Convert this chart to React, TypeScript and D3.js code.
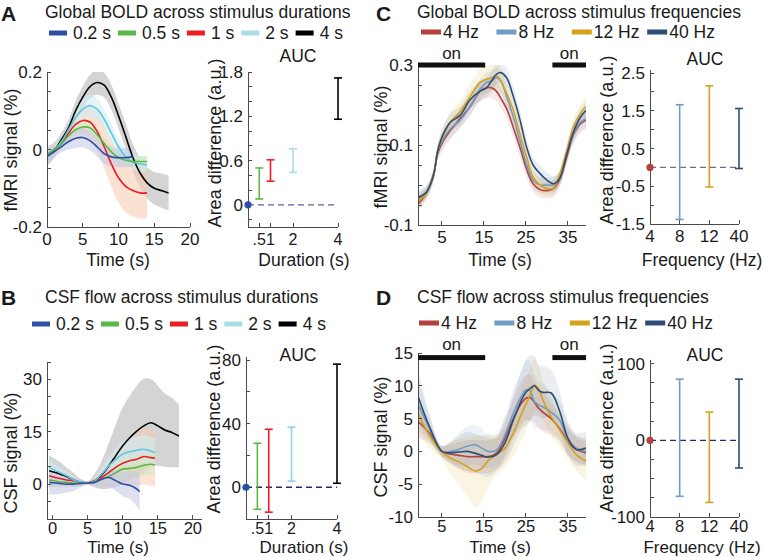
import React, { useEffect, useRef } from "react";
import * as d3 from "d3";

const FONT = "'Liberation Sans', Arial, Helvetica, sans-serif";
const W = 763;
const H = 557;

// ---------- Panel A : Global BOLD across stimulus durations ----------
const durationLabels = ["0.2 s", "0.5 s", "1 s", "2 s", "4 s"];
const durationColors = ["#2f4fa6", "#5bb846", "#ec1d25", "#5cc7de", "#000000"];
const durationLegendColors = ["#2f4fa6", "#5bb846", "#ec1d25", "#a9dee8", "#000000"];
const durationBandColors = ["#c3c6e8", "#cfeac0", "#f8c9ad", "#cdedf4", "#b8b8b8"];

const aT12 = [0, 1, 2, 3, 4, 5, 6, 7, 8, 9, 10, 11, 12];
const aT14 = [0, 1, 2, 3, 4, 5, 6, 7, 8, 9, 10, 11, 12, 13, 14];
const aT17 = [0, 1, 2, 3, 4, 5, 6, 7, 8, 9, 10, 11, 12, 13, 14, 15, 16, 17];

const aBlue = [-0.018, -0.006, 0.007, 0.02, 0.029, 0.031, 0.023, 0.007, -0.011, -0.019, -0.021, -0.021, -0.019];
const aBlueSd = [0.02, 0.015, 0.015, 0.02, 0.025, 0.025, 0.025, 0.025, 0.025, 0.025, 0.025, 0.025, 0.025];
const aGreen = [-0.015, 0, 0.014, 0.035, 0.051, 0.058, 0.056, 0.038, 0.016, -0.006, -0.021, -0.028, -0.031, -0.031, -0.031];
const aGreenSd = [0.012, 0.01, 0.01, 0.012, 0.012, 0.014, 0.014, 0.014, 0.014, 0.014, 0.014, 0.014, 0.014, 0.014, 0.014];
const aRed = [-0.012, 0, 0.016, 0.042, 0.065, 0.075, 0.071, 0.047, 0.007, -0.037, -0.073, -0.095, -0.106, -0.112, -0.112];
const aRedSd = [0.015, 0.012, 0.015, 0.02, 0.03, 0.038, 0.044, 0.05, 0.055, 0.06, 0.064, 0.066, 0.066, 0.066, 0.066];
const aCyan = [-0.011, 0, 0.02, 0.051, 0.082, 0.104, 0.113, 0.104, 0.078, 0.042, 0.007, -0.019, -0.033, -0.037, -0.04];
const aCyanSd = [0.015, 0.012, 0.012, 0.015, 0.02, 0.025, 0.028, 0.028, 0.025, 0.022, 0.02, 0.02, 0.02, 0.02, 0.02];
const aBlack = [-0.018, -0.002, 0.025, 0.056, 0.1, 0.135, 0.162, 0.173, 0.166, 0.135, 0.087, 0.034, -0.02, -0.06, -0.086, -0.1, -0.106, -0.112];
const aBlackSd = [0.025, 0.02, 0.018, 0.02, 0.025, 0.028, 0.03, 0.032, 0.032, 0.032, 0.032, 0.033, 0.035, 0.038, 0.04, 0.042, 0.044, 0.045];

const durationAucX = [0.5, 1, 2, 4];
const boldAucLo = [0.08, 0.32, 0.44, 1.16];
const boldAucHi = [0.5, 0.61, 0.76, 1.72];
const durationTickLabels = [".5", "1", "2", "4"];

// ---------- Panel B : CSF flow across stimulus durations ----------
const bT12 = [-0.5, 1, 2, 3, 4, 5, 6, 7, 8, 9, 10, 11, 12, 12.4];
const bT14 = [-0.5, 1, 2, 3, 4, 5, 6, 7, 8, 9, 10, 11, 12, 13, 14, 14.6];
const bT18 = [-0.5, 1, 2, 3, 4, 5, 6, 7, 8, 9, 10, 11, 12, 13, 14, 15, 16, 17, 18];

const bBlue = [0.5, 0.2, 0, 0, 0.2, 0.3, 0.5, 1.4, 1.9, 1, 0, -0.3, -1.4, -2.2];
const bBlueSd = [3.5, 3, 2.5, 2, 1.2, 0.5, 1, 2, 2.5, 3, 3.5, 4, 5, 5.5];
const bGreen = [1.2, 0.7, 0.5, 0.3, 0.3, 0.3, 0.7, 1.4, 2.2, 3.3, 4.3, 4.5, 4.8, 5.4, 5.7, 5.5];
const bGreenSd = [2, 1.5, 1.2, 1, 0.7, 0.5, 1, 1.5, 2, 2.5, 3, 3, 3, 3, 3, 3];
const bRed = [2.4, 1.6, 1.2, 1, 0.5, 0.3, 1, 1.9, 3.3, 4.8, 6, 6.7, 7.1, 7.9, 7.6, 7.4];
const bRedSd = [3, 2.5, 2, 1.5, 1, 0.5, 1.5, 2.5, 3.5, 4.5, 5.5, 6.5, 7.5, 8, 8, 8];
const bCyan = [4.8, 3.3, 2.4, 1.2, 0.7, 0.3, 1, 2.9, 5.2, 7.1, 8.6, 9.3, 9.7, 10, 9.5, 9];
const bCyanSd = [2, 1.5, 1.2, 1, 0.7, 0.5, 1, 2, 2.5, 3, 3.5, 4, 4, 4, 4, 4];
const bBlack = [3.8, 2.9, 2.2, 1.2, 0.5, 0.3, 1, 2.6, 5.2, 8.1, 11, 13.3, 15.2, 16.7, 17.6, 16.7, 15.5, 14.8, 13.8];
const bBlackSd = [4.5, 3.5, 2.5, 2, 1, 0.5, 2, 4, 6.5, 9, 11, 12, 13, 13.5, 12.5, 11.5, 10.5, 10, 9];

const csfAucLo = [-13.9, -15.7, 3.8, 2.5];
const csfAucHi = [27.7, 36.5, 37.8, 77.5];

// ---------- Panel C : Global BOLD across stimulus frequencies ----------
const freqLabels = ["4 Hz", "8 Hz", "12 Hz", "40 Hz"];
const freqTickLabels = ["4", "8", "12", "40"];
const freqColors = ["#b5413c", "#6f9cc6", "#d4a21a", "#2d4d77"];
const onBlocks = [[-0.7, 15.3], [31.3, 39.3]];

const cT = [-0.7, 1.3, 3, 4, 5.3, 7, 9.3, 11.7, 14, 15.6, 16.8, 18, 19, 20.4, 22, 23.6, 25.2, 26.7, 28.3, 30, 31.5, 33, 34.7, 36.3, 38, 39.3];
const c4Hz = [-0.048, -0.02, 0.025, 0.08, 0.11, 0.136, 0.166, 0.196, 0.234, 0.243, 0.243, 0.234, 0.217, 0.191, 0.144, 0.093, 0.038, 0.003, -0.011, -0.014, -0.009, 0.012, 0.07, 0.125, 0.153, 0.162];
const c8Hz = [-0.035, -0.018, 0.025, 0.085, 0.115, 0.14, 0.162, 0.196, 0.238, 0.256, 0.26, 0.268, 0.26, 0.221, 0.17, 0.11, 0.05, 0.012, 0, 0, 0, 0.016, 0.076, 0.128, 0.157, 0.166];
const c12Hz = [-0.042, -0.02, 0.025, 0.085, 0.123, 0.157, 0.183, 0.221, 0.256, 0.264, 0.268, 0.273, 0.26, 0.23, 0.187, 0.127, 0.068, 0.02, 0, -0.009, -0.008, 0.025, 0.085, 0.145, 0.179, 0.196];
const c40Hz = [-0.031, -0.018, 0.025, 0.085, 0.127, 0.157, 0.174, 0.213, 0.234, 0.243, 0.26, 0.277, 0.281, 0.268, 0.221, 0.162, 0.093, 0.05, 0.029, 0.012, 0.003, 0.016, 0.076, 0.132, 0.17, 0.187];
const c4HzSd = [0.018, 0.015, 0.015, 0.018, 0.02, 0.022, 0.022, 0.022, 0.025, 0.025, 0.025, 0.025, 0.025, 0.025, 0.025, 0.025, 0.022, 0.02, 0.02, 0.02, 0.02, 0.018, 0.02, 0.022, 0.022, 0.022];
const c8HzSd = [0.018, 0.015, 0.015, 0.018, 0.02, 0.022, 0.022, 0.022, 0.025, 0.025, 0.025, 0.025, 0.025, 0.025, 0.025, 0.025, 0.022, 0.02, 0.02, 0.02, 0.02, 0.018, 0.02, 0.022, 0.022, 0.022];
const c12HzSd = [0.018, 0.015, 0.015, 0.018, 0.022, 0.025, 0.028, 0.03, 0.033, 0.035, 0.035, 0.035, 0.033, 0.03, 0.028, 0.025, 0.022, 0.02, 0.02, 0.02, 0.02, 0.018, 0.02, 0.022, 0.022, 0.025];
const c40HzSd = [0.018, 0.015, 0.015, 0.018, 0.02, 0.022, 0.022, 0.022, 0.025, 0.025, 0.025, 0.025, 0.025, 0.025, 0.025, 0.025, 0.022, 0.02, 0.02, 0.02, 0.02, 0.018, 0.02, 0.022, 0.022, 0.022];

const freqBoldAucLo = [-1.38, -0.52, -0.03];
const freqBoldAucHi = [1.66, 2.16, 1.56];

// ---------- Panel D : CSF flow across stimulus frequencies ----------
const dT = [-0.7, 2, 5, 7, 9, 11, 13, 14.5, 16, 18, 20, 22, 24, 25, 26, 27, 28, 29, 31, 33, 35, 37, 39.3];
const d4Hz = [4.6, 2.8, 0, -0.4, -0.6, -0.8, -0.8, -0.8, -0.8, -0.25, 2, 5, 7.4, 8.1, 8.2, 7.5, 6.6, 6, 5, 3.5, 1.5, 0.3, -0.25];
const d8Hz = [7.2, 3.5, 0, 0, 0.3, 0.8, 1, 0.5, 0, 0.2, 2.5, 5.8, 8.5, 9.4, 9.2, 7.6, 7.1, 6.8, 6, 4.8, 1.8, 0.5, 0];
const d12Hz = [5.8, 2.5, -0.15, -1, -1.6, -2.3, -3, -2.6, -1.4, -0.5, 0.5, 2.8, 5.8, 7.2, 8.6, 10.1, 9.6, 7.9, 5.3, 3.3, 1.3, -0.5, -1.5];
const d40Hz = [8.4, 3.8, 0, -0.2, -0.1, 0, -0.3, -0.6, -0.9, -0.5, 1.3, 4.8, 7.9, 9, 9.6, 10, 9.3, 9, 8.9, 6.2, 2, 0.3, 0.5];
const d4HzSd = [2.5, 1.5, 0.8, 1.5, 2, 2.5, 2.5, 2.5, 2.5, 2.5, 3, 3, 3.5, 3.5, 3.5, 3, 3, 3, 2.5, 2, 2, 2, 2];
const d8HzSd = [4, 2, 0.8, 1.5, 2.5, 3, 3, 3, 2.5, 2.5, 3, 3.5, 4, 4.5, 4.5, 4, 3.5, 3.5, 3, 3, 2.5, 2, 2];
const d12HzSd = [3, 2, 1, 2.5, 3.5, 4.5, 5.5, 5, 4, 3, 3, 3.5, 4, 4, 4, 4, 3.5, 3, 3, 2.5, 2.5, 2.5, 3];
const d40HzSd = [4.3, 2, 0.8, 1.5, 2.5, 3, 3, 3, 3, 2.5, 3, 4, 4.5, 5, 5, 4.5, 4, 4, 3.5, 3, 2.5, 2.5, 2.5];

const freqCsfAucLo = [-73, -81, -36];
const freqCsfAucHi = [80, 37, 80];

type Sel = d3.Selection<any, unknown, null, undefined>;
type Lin = d3.ScaleLinear<number, number>;

const AX = "#4a4a4a";
const TXT = "#1a1a1a";

function text(g: Sel, x: number, y: number, s: string, size: number, anchor = "start", weight = "normal") {
  return g
    .append("text")
    .attr("x", x)
    .attr("y", y)
    .attr("font-family", FONT)
    .attr("font-size", size)
    .attr("font-weight", weight)
    .attr("fill", TXT)
    .attr("text-anchor", anchor)
    .text(s);
}

function vtext(g: Sel, cx: number, cy: number, s: string, size: number) {
  g.append("text")
    .attr("transform", `translate(${cx},${cy}) rotate(-90)`)
    .attr("font-family", FONT)
    .attr("font-size", size)
    .attr("fill", TXT)
    .attr("text-anchor", "middle")
    .attr("dominant-baseline", "central")
    .text(s);
}

function axes(
  g: Sel,
  x: Lin,
  y: Lin,
  xTicks: number[],
  xLabels: string[],
  yTicks: number[],
  yLabeled: number[],
  yFmt: (v: number) => string,
  xLabOff = 18,
  xLabSize = 17
) {
  const [xl, xr] = x.range();
  const [yb, yt] = y.range();
  const a = g.append("g").attr("shape-rendering", "crispEdges");
  a.append("line").attr("x1", xl).attr("x2", xl).attr("y1", yb).attr("y2", yt).attr("stroke", AX);
  a.append("line").attr("x1", xl).attr("x2", xr).attr("y1", yb).attr("y2", yb).attr("stroke", AX);
  yTicks.forEach((v) => {
    a.append("line").attr("x1", xl).attr("x2", xl + 4).attr("y1", y(v)).attr("y2", y(v)).attr("stroke", AX);
  });
  yLabeled.forEach((v) => text(g, xl - 5, y(v) + 6, yFmt(v), 17, "end"));
  xTicks.forEach((v, i) => {
    a.append("line").attr("x1", x(v)).attr("x2", x(v)).attr("y1", yb).attr("y2", yb - 4).attr("stroke", AX);
    text(g, x(v), yb + xLabOff, xLabels[i], xLabSize, "middle");
  });
}

type Series = { t: number[]; m: number[]; sd: number[]; color: string; band: string; bandOp: number };

function drawSeries(g: Sel, x: Lin, y: Lin, series: Series[], clipId: string) {
  const [xl, xr] = x.range();
  const [yb, yt] = y.range();
  g.append("clipPath")
    .attr("id", clipId)
    .append("rect")
    .attr("x", xl)
    .attr("y", yt)
    .attr("width", xr - xl)
    .attr("height", yb - yt);
  const c = g.append("g").attr("clip-path", `url(#${clipId})`);
  const curve = d3.curveCatmullRom.alpha(0.5);
  series.forEach((s) => {
    const idx = s.t.map((_, i) => i);
    const area = d3
      .area<number>()
      .x((i) => x(s.t[i]))
      .y0((i) => y(s.m[i] - s.sd[i]))
      .y1((i) => y(s.m[i] + s.sd[i]))
      .curve(curve);
    c.append("path").attr("d", area(idx)).attr("fill", s.band).attr("fill-opacity", s.bandOp).attr("stroke", "none");
  });
  series.forEach((s) => {
    const idx = s.t.map((_, i) => i);
    const line = d3
      .line<number>()
      .x((i) => x(s.t[i]))
      .y((i) => y(s.m[i]))
      .curve(curve);
    c.append("path").attr("d", line(idx)).attr("fill", "none").attr("stroke", s.color).attr("stroke-width", 1.6);
  });
}

function errorBars(g: Sel, x: Lin, y: Lin, xs: number[], lo: number[], hi: number[], colors: string[]) {
  xs.forEach((v, i) => {
    const cx = x(v);
    const col = colors[i];
    g.append("line").attr("x1", cx).attr("x2", cx).attr("y1", y(lo[i])).attr("y2", y(hi[i])).attr("stroke", col).attr("stroke-width", 1.6);
    [lo[i], hi[i]].forEach((w) =>
      g.append("line").attr("x1", cx - 4).attr("x2", cx + 4).attr("y1", y(w)).attr("y2", y(w)).attr("stroke", col).attr("stroke-width", 1.6)
    );
  });
}

function baseline(g: Sel, x: Lin, y: Lin, x0: number, x1: number, dashColor: string, dotColor: string) {
  g.append("line")
    .attr("x1", x(x0))
    .attr("x2", x(x1))
    .attr("y1", y(0))
    .attr("y2", y(0))
    .attr("stroke", dashColor)
    .attr("stroke-width", 1.3)
    .attr("stroke-dasharray", "6,4");
  g.append("circle").attr("cx", x(x0)).attr("cy", y(0)).attr("r", 3.6).attr("fill", dotColor);
}

function flowLegend(g: Sel, x0: number, yLine: number, labels: string[], colors: string[]) {
  let x = x0;
  labels.forEach((l, i) => {
    g.append("rect").attr("x", x).attr("y", yLine - 2.5).attr("width", 18).attr("height", 5).attr("fill", colors[i]);
    const t = text(g, x + 24, yLine + 6, l, 17.5);
    const w = (t.node() as SVGTextElement).getComputedTextLength();
    x = x + 24 + w + 7;
  });
}

function fixedLegend(g: Sel, x0: number, yLine: number, step: number, labels: string[], colors: string[]) {
  labels.forEach((l, i) => {
    const x = x0 + i * step;
    g.append("rect").attr("x", x).attr("y", yLine - 2.5).attr("width", 20).attr("height", 5).attr("fill", colors[i]);
    text(g, x + 22, yLine + 6, l, 17.5);
  });
}

function range(a: number, b: number, s: number) {
  const out: number[] = [];
  for (let v = a; v <= b + s * 1e-6; v += s) out.push(Math.round(v * 1000) / 1000);
  return out;
}

function draw(svg: Sel) {
  svg.append("rect").attr("width", W).attr("height", H).attr("fill", "#fff");
  const g = svg.append("g");

  // panel letters
  text(g, 1, 21, "A", 21, "start", "bold");
  text(g, 1, 305, "B", 21, "start", "bold");
  text(g, 376, 21, "C", 21, "start", "bold");
  text(g, 376, 305, "D", 21, "start", "bold");

  // titles
  text(g, 45, 18, "Global BOLD across stimulus durations", 17.5);
  text(g, 45, 303, "CSF flow across stimulus durations", 17.5);
  text(g, 417, 18, "Global BOLD across stimulus frequencies", 17.5);
  text(g, 417, 303, "CSF flow across stimulus frequencies", 17.5);

  // legends
  flowLegend(g, 49, 33, durationLabels, durationLegendColors);
  flowLegend(g, 32, 324, durationLabels, durationLegendColors);
  fixedLegend(g, 421, 32, 75.4, freqLabels, freqColors);
  fixedLegend(g, 419, 323, 75.4, freqLabels, freqColors);

  const fmt = (v: number) => (v === 0 ? "0" : String(v));

  // ===== A time course =====
  {
    const x = d3.scaleLinear().domain([0, 20]).range([47, 190]);
    const y = d3.scaleLinear().domain([-0.2, 0.2]).range([227, 72]);
    const ser: Series[] = [
      { t: aT17, m: aBlack, sd: aBlackSd, color: durationColors[4], band: durationBandColors[4], bandOp: 0.6 },
      { t: aT14, m: aRed, sd: aRedSd, color: durationColors[2], band: durationBandColors[2], bandOp: 0.55 },
      { t: aT14, m: aCyan, sd: aCyanSd, color: durationColors[3], band: durationBandColors[3], bandOp: 0.6 },
      { t: aT14, m: aGreen, sd: aGreenSd, color: durationColors[1], band: durationBandColors[1], bandOp: 0.6 },
      { t: aT12, m: aBlue, sd: aBlueSd, color: durationColors[0], band: durationBandColors[0], bandOp: 0.55 },
    ];
    drawSeries(g, x, y, ser, "clipA");
    axes(g, x, y, [0, 5, 10, 15, 20], ["0", "5", "10", "15", "20"], range(-0.2, 0.2, 0.05), [-0.2, 0, 0.2], fmt);
    vtext(g, 11, 150, "fMRI signal (%)", 18);
    text(g, 118, 266, "Time (s)", 17.5, "middle");
  }
  // ===== A AUC =====
  {
    const x = d3.scaleLinear().domain([0, 4]).range([248, 338]);
    const y = d3.scaleLinear().domain([-0.3, 1.8]).range([227, 72]);
    axes(g, x, y, durationAucX, durationTickLabels, range(-0.2, 1.8, 0.2), [0, 0.6, 1.2, 1.8], fmt, 18, 16);
    baseline(g, x, y, 0, 4, "#5a6598", durationColors[0]);
    errorBars(g, x, y, durationAucX, boldAucLo, boldAucHi, [durationColors[1], durationColors[2], durationLegendColors[3], durationColors[4]]);
    text(g, 298, 62, "AUC", 17.5, "middle");
    vtext(g, 215, 143, "Area difference (a.u.)", 18);
    text(g, 304, 266, "Duration (s)", 17.5, "middle");
  }

  // ===== B time course =====
  {
    const x = d3.scaleLinear().domain([-0.8, 21.3]).range([47, 202]);
    const y = d3.scaleLinear().domain([-10, 35]).range([519, 362]);
    const ser: Series[] = [
      { t: bT18, m: bBlack, sd: bBlackSd, color: durationColors[4], band: durationBandColors[4], bandOp: 0.6 },
      { t: bT14, m: bRed, sd: bRedSd, color: durationColors[2], band: durationBandColors[2], bandOp: 0.5 },
      { t: bT14, m: bCyan, sd: bCyanSd, color: durationColors[3], band: durationBandColors[3], bandOp: 0.6 },
      { t: bT14, m: bGreen, sd: bGreenSd, color: durationColors[1], band: durationBandColors[1], bandOp: 0.5 },
      { t: bT12, m: bBlue, sd: bBlueSd, color: durationColors[0], band: durationBandColors[0], bandOp: 0.55 },
    ];
    drawSeries(g, x, y, ser, "clipB");
    axes(g, x, y, [0, 5, 10, 15, 20], ["0", "5", "10", "15", "20"], range(-5, 35, 5), [0, 15, 30], fmt, 15, 16.5);
    vtext(g, 11, 453, "CSF signal (%)", 18);
    text(g, 118, 553, "Time (s)", 17, "middle");
  }
  // ===== B AUC =====
  {
    const x = d3.scaleLinear().domain([0, 4]).range([246, 337]);
    const y = d3.scaleLinear().domain([-20, 82]).range([519, 357]);
    axes(g, x, y, durationAucX, durationTickLabels, range(-20, 80, 20), [0, 40, 80], fmt, 15, 16);
    baseline(g, x, y, 0, 4, "#24296e", durationColors[0]);
    errorBars(g, x, y, durationAucX, csfAucLo, csfAucHi, [durationColors[1], durationColors[2], "#8fd4e2", durationColors[4]]);
    text(g, 298, 361, "AUC", 17.5, "middle");
    vtext(g, 214, 429, "Area difference (a.u.)", 18);
    text(g, 304, 553, "Duration (s)", 17, "middle");
  }

  // ===== C time course =====
  {
    const x = d3.scaleLinear().domain([-0.7, 39.3]).range([418, 586]);
    const y = d3.scaleLinear().domain([-0.1, 0.3]).range([225, 65]);
    const ser: Series[] = [
      { t: cT, m: c4Hz, sd: c4HzSd, color: freqColors[0], band: freqColors[0], bandOp: 0.12 },
      { t: cT, m: c8Hz, sd: c8HzSd, color: freqColors[1], band: freqColors[1], bandOp: 0.12 },
      { t: cT, m: c12Hz, sd: c12HzSd, color: freqColors[2], band: freqColors[2], bandOp: 0.12 },
      { t: cT, m: c40Hz, sd: c40HzSd, color: freqColors[3], band: freqColors[3], bandOp: 0.1 },
    ];
    drawSeries(g, x, y, ser, "clipC");
    axes(g, x, y, [5, 15, 25, 35], ["5", "15", "25", "35"], range(-0.1, 0.3, 0.05), [-0.1, 0.1, 0.3], fmt);
    onBlocks.forEach((b) => {
      g.append("rect").attr("x", x(b[0])).attr("y", y(0.3) - 2.5).attr("width", x(b[1]) - x(b[0])).attr("height", 5).attr("fill", "#111");
      text(g, (x(b[0]) + x(b[1])) / 2, 59, "on", 17, "middle");
    });
    vtext(g, 381, 147, "fMRI signal (%)", 18);
    text(g, 500, 266, "Time (s)", 17.5, "middle");
  }
  // ===== C AUC =====
  {
    const x = d3.scaleLinear().domain([0, 3]).range([650, 739]);
    const y = d3.scaleLinear().domain([-1.5, 2.58]).range([224, 70]);
    axes(g, x, y, [0, 1, 2, 3], freqTickLabels, range(-1.5, 2.5, 0.5), [-1.5, -0.5, 0.5, 1.5, 2.5], fmt);
    baseline(g, x, y, 0, 3, "#6a6e96", freqColors[0]);
    errorBars(g, x, y, [1, 2, 3], freqBoldAucLo, freqBoldAucHi, freqColors.slice(1));
    text(g, 705, 65, "AUC", 17.5, "middle");
    vtext(g, 607, 140, "Area difference (a.u.)", 18);
    text(g, 702, 266, "Frequency (Hz)", 17.5, "middle");
  }

  // ===== D time course =====
  {
    const x = d3.scaleLinear().domain([-0.7, 39.3]).range([418, 586]);
    const y = d3.scaleLinear().domain([-10, 15]).range([517, 353]);
    const ser: Series[] = [
      { t: dT, m: d4Hz, sd: d4HzSd, color: freqColors[0], band: freqColors[0], bandOp: 0.12 },
      { t: dT, m: d8Hz, sd: d8HzSd, color: freqColors[1], band: freqColors[1], bandOp: 0.12 },
      { t: dT, m: d12Hz, sd: d12HzSd, color: freqColors[2], band: freqColors[2], bandOp: 0.12 },
      { t: dT, m: d40Hz, sd: d40HzSd, color: freqColors[3], band: freqColors[3], bandOp: 0.1 },
    ];
    drawSeries(g, x, y, ser, "clipD");
    axes(g, x, y, [5, 15, 25, 35], ["5", "15", "25", "35"], range(-10, 15, 5), range(-10, 15, 5), fmt, 15, 16.5);
    onBlocks.forEach((b) => {
      g.append("rect").attr("x", x(b[0])).attr("y", y(14.3) - 2.5).attr("width", x(b[1]) - x(b[0])).attr("height", 5).attr("fill", "#111");
      text(g, (x(b[0]) + x(b[1])) / 2, 350, "on", 17, "middle");
    });
    vtext(g, 381, 437, "CSF signal (%)", 18);
    text(g, 500, 553, "Time (s)", 17, "middle");
  }
  // ===== D AUC =====
  {
    const x = d3.scaleLinear().domain([0, 3]).range([650, 739]);
    const y = d3.scaleLinear().domain([-100, 105]).range([517, 360]);
    axes(g, x, y, [0, 1, 2, 3], freqTickLabels, range(-100, 100, 25), [-100, 0, 100], fmt, 15, 16.5);
    baseline(g, x, y, 0, 3, "#24296e", freqColors[0]);
    errorBars(g, x, y, [1, 2, 3], freqCsfAucLo, freqCsfAucHi, freqColors.slice(1));
    text(g, 705, 361, "AUC", 17.5, "middle");
    vtext(g, 607, 428, "Area difference (a.u.)", 18);
    text(g, 702, 553, "Frequency (Hz)", 17, "middle");
  }
}

export default function App() {
  const ref = useRef<SVGSVGElement>(null);
  useEffect(() => {
    if (!ref.current) return;
    const svg = d3.select(ref.current) as unknown as Sel;
    svg.selectAll("*").remove();
    draw(svg);
  }, []);
  return (
    <svg
      ref={ref}
      width={W}
      height={H}
      style={{ position: "absolute", left: 0, top: 0, display: "block" }}
    />
  );
}
